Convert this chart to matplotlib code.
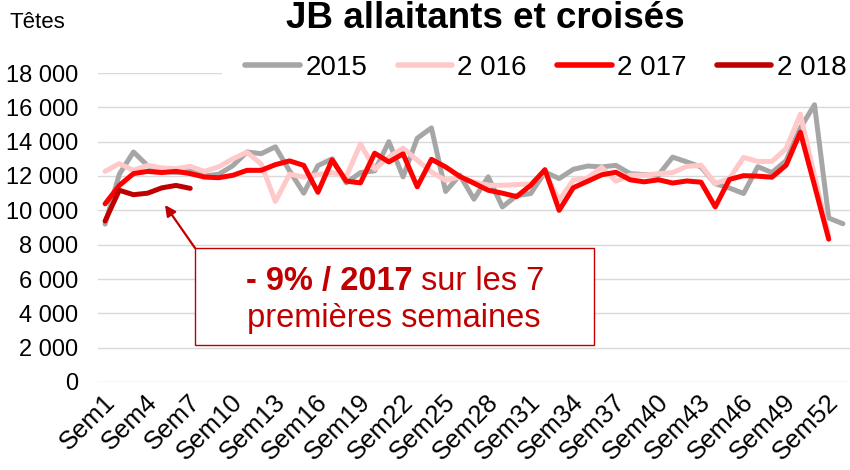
import matplotlib
matplotlib.use("Agg")
import matplotlib.pyplot as plt
import matplotlib.transforms as mtransforms
from matplotlib.patches import Rectangle, FancyArrowPatch
import numpy as np

plt.rcParams['font.family'] = ['Liberation Sans', 'DejaVu Sans']

# ---------------- data ----------------
weeks = [f"Sem{i}" for i in range(1, 54)]
tick_labels = [f"Sem{i}" for i in range(1, 54, 3)]

y2015 = [9200, 12100, 13400, 12600, 12300, 12200, 12300, 12000, 12100, 12600,
         13400, 13300, 13700, 12300, 11000, 12600, 13000, 11600, 12200, 12300,
         14000, 11950, 14200, 14800, 11100, 12050, 10650, 11950, 10200, 10850,
         10980, 12230, 11850, 12390, 12580, 12530, 12620, 12140, 12080, 12060,
         13100, 12820, 12530, 11550, 11300, 10980, 12540, 12200, 12900, 14800,
         16150, 9550, 9220]
y2016 = [12270, 12720, 12330, 12620, 12470, 12430, 12560, 12270, 12530, 13000,
         13380, 12700, 10520, 12100, 11940, 12080, 12200, 11980, 13870, 12400,
         13110, 13620, 12920, 12230, 11750, 11940, 11650, 11460, 11460, 11500,
         11530, 12230, 10590, 11760, 11880, 12500, 11700, 12050, 12050, 12140,
         12200, 12560, 12630, 11560, 11850, 13080, 12850, 12850, 13600, 15600,
         12000, 8500]
y2017 = [10380, 11450, 12140, 12270, 12200, 12270, 12140, 11940, 11900, 12040,
         12330, 12330, 12660, 12880, 12620, 11050, 12940, 11700, 11600, 13330,
         12820, 13290, 11370, 12970, 12530, 11970, 11580, 11170, 11000, 10800,
         11460, 12370, 10000, 11320, 11690, 12070, 12220, 11780, 11660, 11780,
         11590, 11710, 11640, 10200, 11800, 12020, 11990, 11930, 12630, 14550,
         11450, 8320]
y2018 = [9380, 11170, 10910, 11000, 11310, 11450, 11280]

series_names = ["2015", "2 016", "2 017", "2 018"]
series_values = [y2015, y2016, y2017, y2018]
series_colors = ["#A6A6A6", "#FFC9C9", "#FF0000", "#C00000"]

yticks = list(range(0, 18001, 2000))

# ---------------- figure ----------------
W, H = 850, 470
fig = plt.figure(figsize=(W / 100, H / 100), dpi=100)
left_px, right_px, top_px, bottom_px = 98, 850, 73, 382
ax = fig.add_axes([left_px / W, 1 - bottom_px / H,
                   (right_px - left_px) / W, (bottom_px - top_px) / H])

x = np.arange(1, len(weeks) + 1)
for name, vals, col in zip(series_names, series_values, series_colors):
    ax.plot(x[:len(vals)], vals, color=col, lw=3.6, label=name,
            solid_joinstyle='round', solid_capstyle='round', zorder=2)

ax.set_xlim(0.5, len(weeks) + 0.5)
ax.set_ylim(0, 18000)
ax.set_yticks(yticks)
ax.set_yticklabels([f"{v:,}".replace(",", " ") for v in yticks], fontsize=17)
tick_pos = x[::3]
ax.set_xticks(tick_pos)
ax.set_xticklabels([])

# rotated category labels (drawn as text so they can be offset freely)
lab_trans = mtransforms.blended_transform_factory(ax.transData, ax.transAxes) + \
    mtransforms.ScaledTranslation(6 / 100, -16 / 100, fig.dpi_scale_trans)
for pos, lab in zip(tick_pos, tick_labels):
    ax.text(pos, 0, lab, transform=lab_trans, fontsize=18.5, rotation=45,
            ha='right', va='center', rotation_mode='anchor', clip_on=False)

ax.tick_params(axis='both', length=0)
ax.tick_params(axis='y', pad=14)
for s in ax.spines.values():
    s.set_visible(False)
ax.yaxis.grid(True, color='#D9D9D9', lw=1.0, zorder=1)
ax.set_axisbelow(True)

# white mask behind legend (hides the top gridline there)
ax.add_patch(Rectangle(((222 - left_px) / (right_px - left_px), 0.97), 1.0, 0.06,
                       transform=ax.transAxes, facecolor='white', edgecolor='none',
                       clip_on=False, zorder=1.8))

leg = ax.legend(ncol=4, loc='center', bbox_to_anchor=(546 / W, 1 - 68 / H),
                bbox_transform=fig.transFigure, frameon=False, fontsize=20,
                handlelength=1.95, handletextpad=0.2, columnspacing=1.1,
                borderpad=0.2)
for lh in leg.get_lines():
    lh.set_linewidth(4.0)

# title and unit
fig.text(485 / W, 1 - 28 / H, "JB allaitants et croisés", ha='center',
         va='baseline', fontsize=26.5, fontweight='bold')
fig.text(10 / W, 1 - 28 / H, "Têtes", ha='left', va='baseline', fontsize=16)

# annotation box
red_dark = '#C00000'
fig.add_artist(Rectangle((195 / W, 1 - 345 / H), (594 - 195) / W, (345 - 248) / H,
                         transform=fig.transFigure, facecolor='white',
                         edgecolor=red_dark, lw=1.0, zorder=3))
fig.text(413 / W, 1 - 290 / H, "- 9% / 2017", ha='right', va='baseline',
         fontsize=23.5, fontweight='bold', color=red_dark, zorder=4)
fig.text(421 / W, 1 - 290 / H, "sur les 7", ha='left', va='baseline',
         fontsize=23.5, color=red_dark, zorder=4)
fig.text(394 / W, 1 - 327 / H, "premières semaines", ha='center', va='baseline',
         fontsize=23.5, color=red_dark, zorder=4)
fig.add_artist(FancyArrowPatch((195 / W, 1 - 248 / H), (165 / W, 1 - 205 / H),
                               transform=fig.transFigure, arrowstyle='-|>',
                               mutation_scale=16, color=red_dark, lw=1.6,
                               shrinkA=0, shrinkB=0, zorder=4))

fig.savefig("out.png", dpi=100)
